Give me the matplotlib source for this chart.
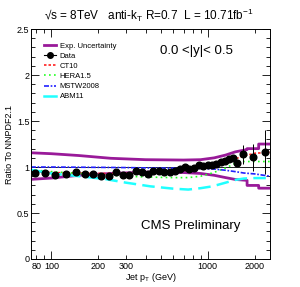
import matplotlib
matplotlib.use("Agg")
import matplotlib.pyplot as plt
from matplotlib.lines import Line2D
from matplotlib.ticker import FixedLocator, NullFormatter, FixedFormatter, MultipleLocator
import numpy as np

# data points (bin centres, ratio to NNPDF2.1)
pt = [79, 90.5, 105.5, 123.5, 143, 163.5, 185, 208, 232.5, 258.5, 286, 315,
      346, 378.5, 412.5, 449, 487.5, 527.5, 570, 615, 662, 711.5, 763.5, 818,
      875.5, 936, 999.5, 1066.5, 1136.5, 1210, 1287.5, 1368.5, 1453.5, 1542.5,
      1686, 1950, 2308]
ratio = [0.938, 0.938, 0.91, 0.927, 0.949, 0.927, 0.927, 0.902, 0.902, 0.946,
         0.91, 0.916, 0.953, 0.946, 0.927, 0.957, 0.96, 0.942, 0.949, 0.953,
         0.975, 0.997, 0.975, 0.99, 1.02, 1.014, 1.018, 1.025, 1.036, 1.05,
         1.065, 1.084, 1.095, 1.047, 1.138, 1.105, 1.16]
ratio_err = [0.004] * 30 + [0.008, 0.012, 0.018, 0.03, 0.1, 0.15, 0.24]

# experimental uncertainty band
band_pt = [74, 100, 150, 240, 400, 700, 900, 1100, 1300, 1500, 1784, 1784, 2116, 2116, 2500]
band_hi = [1.155, 1.145, 1.125, 1.095, 1.08, 1.076, 1.08, 1.10, 1.13, 1.165, 1.19, 1.20, 1.20, 1.25, 1.25]
band_lo = [0.866, 0.88, 0.91, 0.93, 0.945, 0.94, 0.93, 0.91, 0.885, 0.865, 0.855, 0.80, 0.80, 0.77, 0.77]

# theory curves
th_pt = [74, 100, 150, 220, 300, 430, 600, 750, 900, 1070, 1300, 1500, 1700, 2000, 2500]
ct10 = [0.95, 0.94, 0.935, 0.93, 0.93, 0.93, 0.945, 0.97, 0.995, 1.02, 1.06, 1.09, 1.12, 1.15, 1.16]
hera = [0.97, 0.95, 0.93, 0.915, 0.9, 0.89, 0.885, 0.885, 0.9, 0.935, 0.99, 1.04, 1.06, 1.06, 1.06]
mstw = [1.0, 1.0, 0.998, 0.996, 0.994, 0.99, 0.988, 0.986, 0.984, 0.98, 0.965, 0.95, 0.935, 0.925, 0.9]
abm11 = [0.97, 0.93, 0.9, 0.87, 0.83, 0.79, 0.765, 0.755, 0.77, 0.79, 0.83, 0.86, 0.875, 0.88, 0.88]

x_labels = [80, 100, 200, 300, 1000, 2000]
y_ticks = [0, 0.5, 1, 1.5, 2, 2.5]
y_labels = ["0", "0.5", "1", "1.5", "2", "2.5"]

purple = "#991a99"

plt.rcParams["font.family"] = ["Liberation Sans", "DejaVu Sans"]

fig = plt.figure(figsize=(3.0, 2.87), dpi=100)
ax = fig.add_axes([0.103, 0.0976, 0.797, 0.801])

ax.axhline(1.0, color="black", lw=0.6)
ax.plot(band_pt, band_hi, color=purple, lw=2.0)
ax.plot(band_pt, band_lo, color=purple, lw=2.0)
ax.plot(th_pt, ct10, color="#ff2020", lw=1.2, ls=(0, (1.5, 1.2)))
ax.plot(th_pt, hera, color="#20ff20", lw=1.2, ls=(0, (1, 2)))
ax.plot(th_pt, mstw, color="#2020ff", lw=1.2, ls=(0, (3, 1, 1, 1)))
ax.plot(th_pt, abm11, color="#20ffff", lw=1.8, ls=(0, (5, 2.5)))
ax.errorbar(pt, ratio, yerr=ratio_err, fmt="o", color="black", ms=4.8,
            elinewidth=0.7, capsize=0)

ax.set_xscale("log")
ax.set_xlim(74, 2500)
ax.set_ylim(0, 2.5)

ax.xaxis.set_major_locator(FixedLocator([100, 1000]))
ax.xaxis.set_minor_locator(FixedLocator([80, 90, 200, 300, 400, 500, 600, 700, 800, 900, 2000]))
ax.xaxis.set_major_formatter(NullFormatter())
ax.xaxis.set_minor_formatter(NullFormatter())
for v in x_labels:
    ax.text(v, -0.015, str(v), ha="center", va="top", fontsize=6.5,
            transform=ax.get_xaxis_transform())

ax.yaxis.set_major_locator(FixedLocator(y_ticks))
ax.yaxis.set_major_formatter(FixedFormatter(y_labels))
ax.yaxis.set_minor_locator(MultipleLocator(0.1))
ax.tick_params(axis="y", labelsize=6.5, pad=1)
ax.tick_params(which="both", direction="in", top=True, right=True)
ax.tick_params(which="major", length=6, width=0.6)
ax.tick_params(which="minor", length=3, width=0.6)
for s in ax.spines.values():
    s.set_linewidth(0.7)

ax.set_ylabel("Ratio To NNPDF2.1", fontsize=6.5, labelpad=2)
ax.set_xlabel(r"Jet p$_\mathregular{T}$ (GeV)", fontsize=6.5, labelpad=5.5)

handles = [
    Line2D([], [], color=purple, lw=2.0),
    Line2D([], [], color="black", marker="o", ms=4, lw=0.8),
    Line2D([], [], color="#ff2020", lw=1.2, ls=(0, (1.5, 1.2))),
    Line2D([], [], color="#20ff20", lw=1.2, ls=(0, (1, 2))),
    Line2D([], [], color="#2020ff", lw=1.2, ls=(0, (3, 1, 1, 1))),
    Line2D([], [], color="#20ffff", lw=1.8),
]
labels = ["Exp. Uncertainty", "Data", "CT10", "HERA1.5", "MSTW2008", "ABM11"]
ax.legend(handles, labels, loc="upper left", bbox_to_anchor=(0.04, 0.955),
          frameon=False, fontsize=5.5, handlelength=1.6, handletextpad=0.5,
          labelspacing=0.36, borderaxespad=0)

ax.text(0.54, 0.89, "0.0 <|y|< 0.5", transform=ax.transAxes, fontsize=9.5)
ax.text(0.46, 0.13, "CMS Preliminary", transform=ax.transAxes, fontsize=9.5)

fig.text(0.495, 0.945,
         "\u221as = 8TeV   anti-k$_\\mathregular{T}$ R=0.7  L = 10.71fb$^\\mathregular{-1}$",
         ha="center", va="center", fontsize=8.5)

fig.savefig("out.png", dpi=100)
